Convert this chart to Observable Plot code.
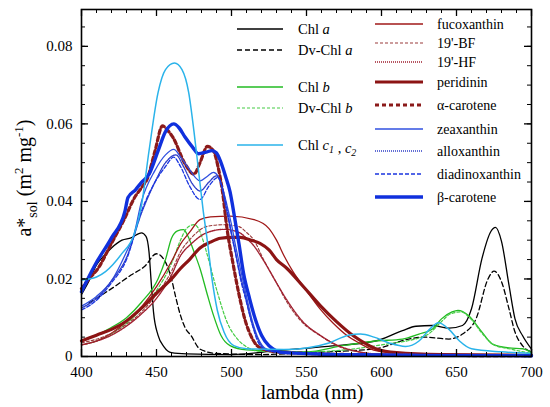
<!DOCTYPE html>
<html><head><meta charset="utf-8">
<script src="https://cdn.jsdelivr.net/npm/d3@7"></script>
<script src="https://cdn.jsdelivr.net/npm/@observablehq/plot@0.6"></script>
<style>
body{margin:0;background:#fff}
svg text, svg tspan { font-family: "Liberation Serif", "DejaVu Serif", serif !important; }
</style>
</head><body><div id="chart"></div>
<script>
// ---- data: [wavelength nm, a*sol m2 mg-1] ----
const chlA = [[400,0.016],[405,0.0195],[410,0.0236],[415,0.026],[420,0.028],[427,0.030],[433,0.0306],[440,0.0319],[443,0.031],[445,0.027],[446.5,0.019],[448,0.0115],[451,0.0055],[455,0.0025],[460,0.001],[470,0.0007],[500,0.0005],[530,0.0015],[560,0.0025],[596,0.004],[614,0.0067],[623,0.0078],[634,0.008],[645,0.0073],[654,0.008],[660,0.0123],[667,0.0253],[673,0.0323],[676,0.0333],[680,0.0297],[685,0.0184],[689,0.0097],[694,0.0054],[700,0.0019]];
const dvChlA = [[405,0.0138],[410,0.015],[420,0.0175],[433,0.021],[442,0.0232],[450,0.0265],[455,0.025],[460,0.020],[463,0.015],[466,0.0106],[469,0.0075],[473,0.0054],[479,0.0019],[490,0.0008],[520,0.0005],[550,0.001],[596,0.002],[618,0.0045],[629,0.005],[645,0.0045],[654,0.0058],[663,0.0097],[671,0.020],[675,0.022],[680,0.0193],[685,0.0123],[689,0.0063],[694,0.0028],[700,0.0012]];
const chlB = [[400,0.004],[410,0.0055],[418,0.0071],[430,0.010],[440,0.014],[451,0.020],[456,0.025],[460,0.0305],[464,0.0324],[468,0.0327],[471,0.031],[475,0.027],[479,0.0227],[484,0.0158],[488,0.0106],[493,0.0054],[499,0.0028],[510,0.0017],[550,0.0012],[574,0.0028],[596,0.004],[614,0.0045],[625,0.0058],[634,0.0071],[640,0.0097],[647,0.0115],[651,0.0119],[658,0.0106],[667,0.0063],[674,0.0032],[685,0.0022],[694,0.002],[700,0.001]];
const dvChlB = [[400,0.003],[410,0.004],[418,0.0054],[430,0.0085],[440,0.0123],[450,0.017],[460,0.024],[466,0.030],[470,0.033],[475,0.034],[478,0.033],[481,0.030],[484,0.026],[490.5,0.0167],[497,0.0089],[504,0.0045],[510,0.0025],[520,0.0013],[550,0.0012],[600,0.003],[630,0.0055],[640,0.009],[646,0.011],[653,0.0115],[660,0.0095],[667,0.006],[675,0.003],[685,0.002],[700,0.0008]];
const chlC = [[400,0.0197],[410,0.0205],[416,0.0219],[427,0.0266],[435,0.0314],[440,0.039],[445,0.053],[451,0.068],[456,0.074],[462,0.0757],[467,0.074],[471.5,0.068],[475,0.058],[478,0.048],[481,0.038],[484,0.0295],[487,0.020],[490.5,0.012],[495,0.0063],[501.5,0.0028],[510,0.002],[535,0.0018],[550,0.0022],[565,0.0035],[578,0.0055],[586,0.0058],[595,0.005],[605,0.0035],[616,0.0026],[625,0.004],[632,0.007],[638,0.0087],[645,0.007],[652,0.004],[660,0.002],[680,0.0012],[700,0.0008]];
const fucoxanthin = [[400,0.003],[410,0.004],[420,0.006],[430,0.009],[440,0.0128],[450,0.018],[460,0.0245],[466,0.029],[472,0.032],[479,0.0353],[486,0.036],[499,0.0362],[515,0.0353],[525,0.033],[530,0.030],[535,0.026],[541,0.0219],[550,0.017],[559,0.0123],[568,0.0085],[577,0.0054],[585,0.0035],[593,0.0019],[605,0.001],[620,0.0006],[700,0.0003]];
const bf19 = [[400,0.0035],[420,0.006],[440,0.0115],[450,0.016],[460,0.022],[466,0.027],[473,0.0305],[484,0.0336],[495,0.034],[505,0.0335],[510,0.032],[515,0.030],[521,0.0253],[530,0.019],[537,0.014],[548,0.0085],[559,0.0054],[570,0.0028],[585,0.0012],[600,0.0006],[700,0.0002]];
const hf19 = [[400,0.003],[420,0.0055],[440,0.011],[450,0.015],[460,0.021],[466,0.026],[473,0.029],[484,0.032],[495,0.0328],[505,0.032],[510,0.0305],[515,0.0285],[521,0.025],[530,0.019],[537,0.0145],[548,0.0088],[559,0.0055],[570,0.003],[585,0.0012],[600,0.0006],[700,0.0002]];
const peridinin = [[400,0.004],[410,0.0055],[420,0.007],[429,0.0089],[440,0.0125],[451,0.0167],[460,0.020],[466,0.0227],[472,0.025],[479,0.028],[486,0.0295],[492.7,0.0305],[500,0.0307],[506,0.0307],[513,0.030],[519,0.0292],[525,0.0275],[530,0.025],[537,0.0227],[548,0.018],[559,0.0132],[570,0.009],[581,0.0054],[590,0.0032],[597,0.0019],[610,0.001],[640,0.0005],[700,0.0003]];
const aCarotene = [[400,0.0175],[405,0.020],[411,0.0227],[420,0.0292],[428,0.035],[436,0.0414],[440,0.0435],[444,0.046],[449,0.053],[454,0.0595],[457,0.0585],[461,0.0565],[469,0.0497],[475,0.047],[479,0.050],[484,0.0542],[488,0.053],[491,0.049],[494,0.0425],[497,0.033],[501,0.024],[505,0.016],[509,0.0095],[514,0.0045],[520,0.002],[530,0.0012],[550,0.0008],[600,0.0004],[700,0.0002]];
const zeaxanthin = [[400,0.013],[410,0.0155],[420,0.0195],[430,0.027],[435,0.0315],[440,0.040],[449,0.048],[456,0.052],[461.5,0.0534],[466,0.0515],[471.5,0.0485],[479,0.0453],[484,0.0465],[488,0.0475],[491,0.0465],[494,0.0435],[497,0.039],[500,0.034],[503,0.028],[506,0.0225],[510,0.0155],[514,0.009],[518,0.0045],[523,0.002],[535,0.001],[560,0.0007],[700,0.0003]];
const alloxanthin = [[400,0.0125],[410,0.015],[420,0.0195],[430,0.0255],[440,0.037],[449,0.045],[456,0.050],[463,0.052],[468,0.049],[474,0.0445],[479,0.0427],[485,0.045],[490,0.0466],[493,0.0445],[496,0.039],[499,0.0335],[502,0.028],[505,0.0225],[509,0.016],[513,0.0095],[517,0.005],[522,0.002],[535,0.001],[700,0.0003]];
const diadinoxanthin = [[400,0.012],[410,0.0145],[420,0.019],[430,0.025],[440,0.0375],[449,0.045],[456,0.049],[461.5,0.0514],[466,0.049],[472,0.044],[479,0.0405],[485,0.044],[491,0.0462],[494,0.0435],[497,0.038],[500,0.0315],[503,0.026],[506,0.020],[510,0.014],[514,0.008],[518,0.0035],[524,0.0015],[535,0.001],[700,0.0003]];
const bCarotene = [[400,0.0167],[409,0.0236],[420,0.0306],[429,0.0375],[431,0.041],[436,0.043],[440,0.0449],[445,0.047],[451,0.053],[456,0.058],[461.5,0.060],[465,0.059],[469,0.0566],[474,0.054],[478,0.0523],[483,0.0527],[487,0.0531],[490,0.0525],[493,0.050],[496,0.0465],[499,0.0425],[502,0.036],[505,0.029],[508,0.0215],[512,0.015],[516,0.0095],[520,0.0055],[525,0.0028],[535,0.001],[600,0.0003],[700,0.0002]];

const xMajor = [400,450,500,550,600,650,700];
const xMinor = d3.range(400,701,10);
const yMajor = [0,0.02,0.04,0.06,0.08];
const yMinor = d3.range(0,0.0896,0.005);
const yTickLabels = ["0","0.02","0.04","0.06","0.08"];

// ---- styles ----
const styles = [
  {data: chlA, stroke:"#000", w:1.3, dash:null},
  {data: dvChlA, stroke:"#000", w:1.3, dash:"5,3"},
  {data: chlB, stroke:"#22bb22", w:1.3, dash:null},
  {data: dvChlB, stroke:"#44cc44", w:1.2, dash:"3,2"},
  {data: fucoxanthin, stroke:"#a01818", w:1.3, dash:null},
  {data: bf19, stroke:"#9a3a3a", w:1.1, dash:"3,2"},
  {data: hf19, stroke:"#a02030", w:1.4, dash:"1,1"},
  {data: peridinin, stroke:"#8c1414", w:3.2, dash:null},
  {data: aCarotene, stroke:"#8b1a1a", w:3.2, dash:"4,3"},
  {data: zeaxanthin, stroke:"#3050e0", w:1.3, dash:null},
  {data: alloxanthin, stroke:"#3040c8", w:1.4, dash:"1,1"},
  {data: diadinoxanthin, stroke:"#1a35e0", w:1.3, dash:"4,2"},
  {data: bCarotene, stroke:"#1030dd", w:3.4, dash:null},
  {data: chlC, stroke:"#2ab3ea", w:1.5, dash:null}
];

const W = 550, H = 407, mL = 81, mR = 19, mT = 9, mB = 51;
const fw = W - mL - mR, fh = H - mT - mB;
const font = "Liberation Serif, DejaVu Serif, serif";

const plot = Plot.plot({
  width: W, height: H,
  marginLeft: mL, marginRight: mR, marginTop: mT, marginBottom: mB,
  style: {fontFamily: font, fontSize: "15px", color: "#000", background: "#fff"},
  x: {domain: [400, 700]},
  y: {domain: [0, 0.0895]},
  marks: [
    ...styles.map(s => Plot.line(s.data, {x: d => d[0], y: d => d[1], stroke: s.stroke, strokeWidth: s.w, strokeDasharray: s.dash, curve: "monotone-x"})),
    Plot.tickX(xMinor, {x: d => d, insetTop: fh - 4, stroke: "#000"}),
    Plot.tickX(xMinor, {x: d => d, insetBottom: fh - 4, stroke: "#000"}),
    Plot.tickX(xMajor, {x: d => d, insetTop: fh - 7, stroke: "#000", strokeWidth: 1.3}),
    Plot.tickX(xMajor, {x: d => d, insetBottom: fh - 7, stroke: "#000", strokeWidth: 1.3}),
    Plot.tickY(yMinor, {y: d => d, insetRight: fw - 4, stroke: "#000"}),
    Plot.tickY(yMinor, {y: d => d, insetLeft: fw - 4, stroke: "#000"}),
    Plot.tickY(yMajor, {y: d => d, insetRight: fw - 7, stroke: "#000", strokeWidth: 1.3}),
    Plot.tickY(yMajor, {y: d => d, insetLeft: fw - 7, stroke: "#000", strokeWidth: 1.3}),
    Plot.axisX(xMajor, {tickSize: 0, tickPadding: 10, label: null, fontSize: 15}),
    Plot.axisY(yMajor, {tickSize: 0, tickPadding: 9, label: null, fontSize: 15, tickFormat: (d, i) => yTickLabels[i]}),
    Plot.frame({stroke: "#000", strokeWidth: 1.6})
  ]
});
document.getElementById("chart").appendChild(plot);

const svg = d3.select(plot);
function txt(x, y, size, anchor) {
  return svg.append("text").attr("x", x).attr("y", y).attr("text-anchor", anchor)
    .attr("font-family", font).attr("font-size", size).attr("fill", "#000");
}
// axis titles
txt(312, 399, 20, "middle").text("lambda (nm)");
const yl = svg.append("text").attr("transform", "translate(31,178) rotate(-90)").attr("text-anchor", "middle")
  .attr("font-family", font).attr("font-size", 20).attr("fill", "#000");
yl.append("tspan").text("a*");
yl.append("tspan").attr("font-size", 14).attr("dy", 6).text("sol");
yl.append("tspan").attr("dy", -6).text(" (m");
yl.append("tspan").attr("font-size", 13).attr("dy", -8).text("2");
yl.append("tspan").attr("dy", 8).text(" mg");
yl.append("tspan").attr("font-size", 13).attr("dy", -8).text("-1");
yl.append("tspan").attr("dy", 8).text(")");

// legend
const legendLeft = [
  {parts: [["Chl ", false], ["a", true]], y: 29, s: 0},
  {parts: [["Dv-Chl ", false], ["a", true]], y: 50, s: 1},
  {parts: [["Chl ", false], ["b", true]], y: 87, s: 2},
  {parts: [["Dv-Chl ", false], ["b", true]], y: 108, s: 3},
  {parts: [["Chl ", false], ["c", true, "1"], [" , ", false], ["c", true, "2"]], y: 145, s: 13}
];
const legendRight = [
  ["fucoxanthin", 24, 4], ["19'-BF", 43, 5], ["19'-HF", 62, 6], ["peridinin", 82, 7],
  ["α-carotene", 105, 8], ["zeaxanthin", 129, 9], ["alloxanthin", 151, 10],
  ["diadinoxanthin", 174, 11], ["β-carotene", 197, 12]
];
function legendLine(x1, x2, y, st) {
  svg.append("line").attr("x1", x1).attr("x2", x2).attr("y1", y).attr("y2", y)
    .attr("stroke", st.stroke).attr("stroke-width", st.w).attr("stroke-dasharray", st.dash);
}
legendLeft.forEach(e => {
  legendLine(237, 283, e.y, styles[e.s]);
  const t = txt(298, e.y + 5, 14.5, "start");
  e.parts.forEach(p => {
    const sp = t.append("tspan").text(p[0]);
    if (p[1]) sp.attr("font-style", "italic");
    if (p[2]) { t.append("tspan").attr("font-size", 10).attr("font-style", "italic").attr("dy", 3).text(p[2]); t.append("tspan").attr("dy", -3).text(""); }
  });
});
legendRight.forEach(([name, y, s]) => {
  legendLine(375, 423, y, styles[s]);
  txt(437, y + 5, 14, "start").text(name);
});
</script>
</body></html>
